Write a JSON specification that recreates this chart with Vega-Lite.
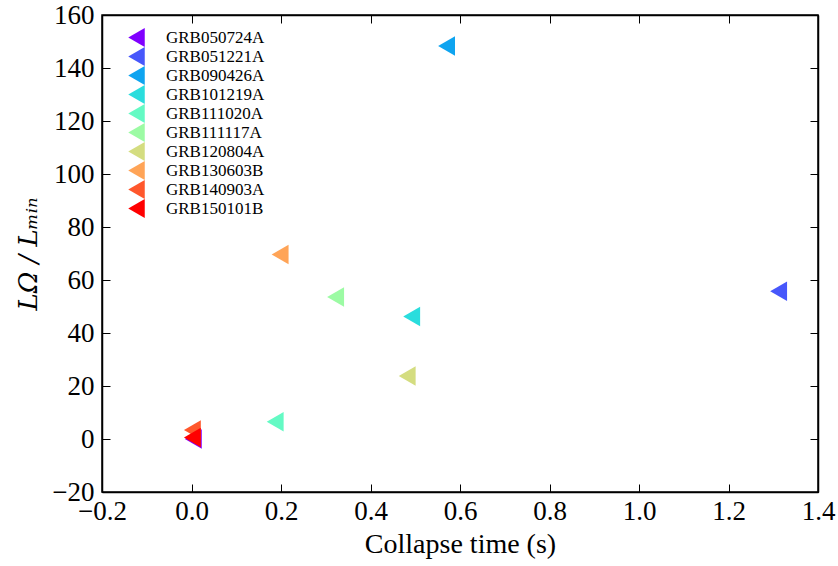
{
  "$schema": "https://vega.github.io/schema/vega-lite/v6.json",
  "autosize": {"type": "none"},
  "padding": {"left": 102, "top": 15, "right": 20, "bottom": 74},
  "width": 716,
  "height": 477,
  "background": "white",
  "config": {
    "font": "Liberation Serif",
    "view": {"stroke": "black", "strokeWidth": 1.5},
    "axis": {
      "grid": false,
      "domainColor": "black",
      "domainWidth": 1.5,
      "tickColor": "black",
      "tickWidth": 1,
      "tickSize": -8,
      "labelFont": "Liberation Serif",
      "labelFontSize": 27,
      "labelColor": "black",
      "labelFlush": false,
      "labelOverlap": false,
      "titleFont": "Liberation Serif",
      "titleFontSize": 28,
      "titleFontWeight": "normal",
      "titleColor": "black"
    }
  },
  "data": {
    "values": [
      {"grb": "GRB050724A", "t": 0.004, "ratio": 0.0},
      {"grb": "GRB051221A", "t": 1.312, "ratio": 55.8},
      {"grb": "GRB090426A", "t": 0.570, "ratio": 148.3},
      {"grb": "GRB101219A", "t": 0.492, "ratio": 46.2},
      {"grb": "GRB111020A", "t": 0.187, "ratio": 6.5},
      {"grb": "GRB111117A", "t": 0.322, "ratio": 53.6},
      {"grb": "GRB120804A", "t": 0.482, "ratio": 23.8},
      {"grb": "GRB130603B", "t": 0.198, "ratio": 69.6},
      {"grb": "GRB140903A", "t": 0.002, "ratio": 3.4},
      {"grb": "GRB150101B", "t": 0.002, "ratio": 0.6}
    ]
  },
  "resolve": {"axis": {"x": "independent", "y": "independent"}},
  "layer": [
    {
      "mark": {"type": "point", "shape": "triangle-left", "filled": true, "opacity": 1, "size": 380},
      "encoding": {
        "x": {
          "field": "t", "type": "quantitative",
          "scale": {"domain": [-0.2, 1.4], "nice": false, "zero": false},
          "axis": {"title": "Collapse time (s)", "values": [-0.2, 0, 0.2, 0.4, 0.6, 0.8, 1.0, 1.2, 1.4], "format": ".1f", "labelPadding": 14, "titlePadding": 6}
        },
        "y": {
          "field": "ratio", "type": "quantitative",
          "scale": {"domain": [-20, 160], "nice": false, "zero": false},
          "axis": {"title": "LΩ / Lₘᵢₙ", "titleFont": "DejaVu Serif", "titleFontSize": 26, "titleFontStyle": "italic", "values": [-20, 0, 20, 40, 60, 80, 100, 120, 140, 160], "labelPadding": 16, "titlePadding": 10}
        },
        "color": {
          "field": "grb", "type": "nominal",
          "scale": {
            "domain": ["GRB050724A", "GRB051221A", "GRB090426A", "GRB101219A", "GRB111020A", "GRB111117A", "GRB120804A", "GRB130603B", "GRB140903A", "GRB150101B"],
            "range": ["#8000ff", "#4757fb", "#0ea4f0", "#2adddd", "#64fac4", "#9cfba4", "#d4dd80", "#ffa457", "#ff572c", "#ff0000"]
          },
          "legend": {
            "title": null,
            "orient": "none",
            "legendX": 25,
            "legendY": 13,
            "padding": 0,
            "symbolType": "triangle-left",
            "symbolSize": 361,
            "symbolStrokeWidth": 0,
            "symbolOpacity": 1,
            "labelFont": "Liberation Serif",
            "labelFontSize": 17,
            "labelColor": "black",
            "labelOffset": 20,
            "rowPadding": 0
          }
        }
      }
    },
    {
      "mark": {"type": "point", "opacity": 0},
      "encoding": {
        "x": {
          "field": "t", "type": "quantitative",
          "axis": {"orient": "top", "title": null, "labels": false, "values": [-0.2, 0, 0.2, 0.4, 0.6, 0.8, 1.0, 1.2, 1.4]}
        },
        "y": {
          "field": "ratio", "type": "quantitative",
          "axis": {"orient": "right", "title": null, "labels": false, "values": [-20, 0, 20, 40, 60, 80, 100, 120, 140, 160]}
        }
      }
    }
  ]
}
